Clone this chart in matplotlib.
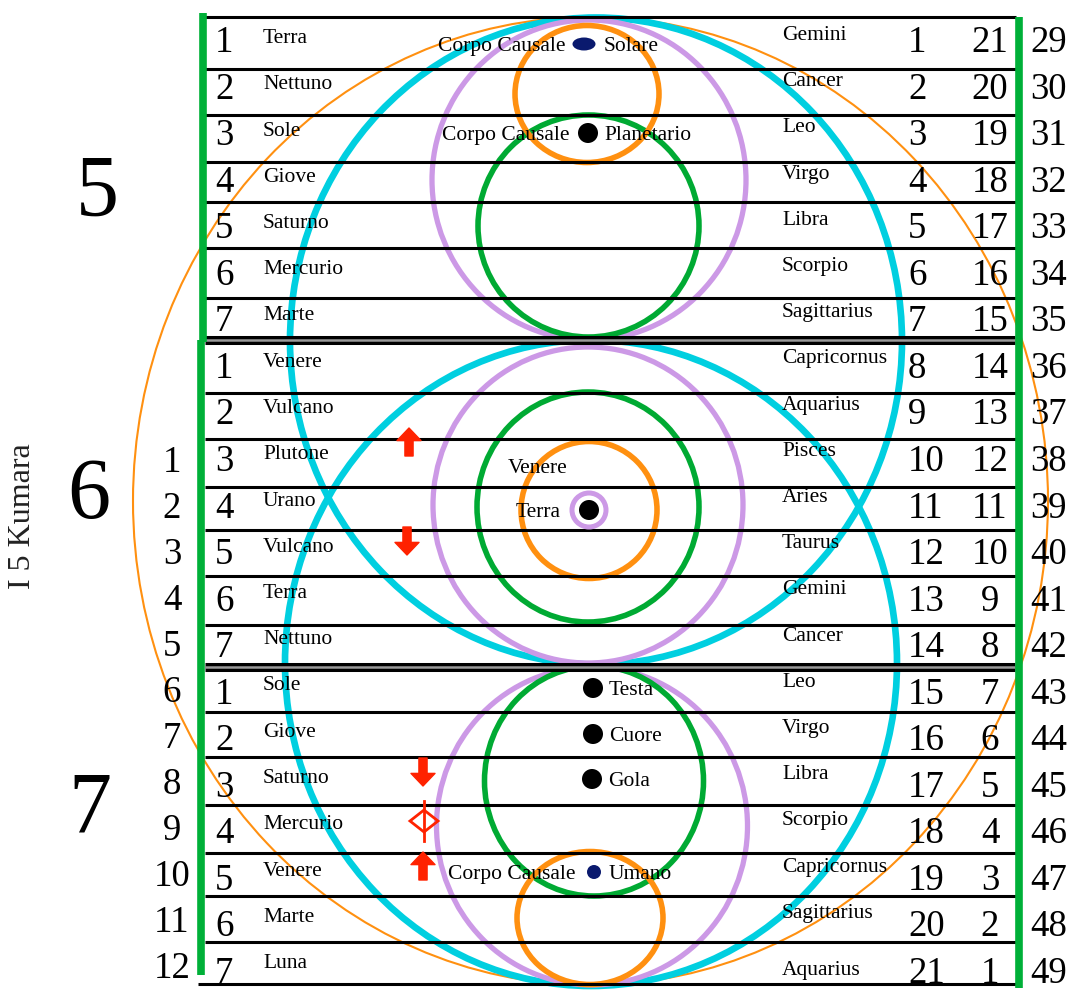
import matplotlib
matplotlib.use("Agg")
import matplotlib.pyplot as plt
from matplotlib.patches import Ellipse, Circle, Polygon

# ---------------- data ----------------
section_labels = ["5", "6", "7"]
row_numbers = [1, 2, 3, 4, 5, 6, 7] * 3
planets = ["Terra", "Nettuno", "Sole", "Giove", "Saturno", "Mercurio", "Marte",
           "Venere", "Vulcano", "Plutone", "Urano", "Vulcano", "Terra", "Nettuno",
           "Sole", "Giove", "Saturno", "Mercurio", "Venere", "Marte", "Luna"]
zodiac = ["Gemini", "Cancer", "Leo", "Virgo", "Libra", "Scorpio", "Sagittarius",
          "Capricornus", "Aquarius", "Pisces", "Aries", "Taurus", "Gemini", "Cancer",
          "Leo", "Virgo", "Libra", "Scorpio", "Capricornus", "Sagittarius", "Aquarius"]
col_a = list(range(1, 22))
col_b = list(range(21, 0, -1))
col_c = list(range(29, 50))
kumara_numbers = list(range(1, 13))      # rows 10..21
kumara_first_row = 9
side_title = "I 5 Kumara"
# red symbols: (row index, kind)
red_symbols = [(9, "up"), (11, "down"), (16, "down"), (17, "diamond"), (18, "up")]
# centre labels: (left text, dot kind, right text, row index)
centre_labels = [("Corpo Causale", "navy_ellipse", "Solare", 0),
                 ("Corpo Causale", "black", "Planetario", 2),
                 ("", "black", "Testa", 14),
                 ("", "black", "Cuore", 15),
                 ("", "black", "Gola", 16),
                 ("Corpo Causale", "navy_small", "Umano", 18)]

# ---------------- layout ----------------
W, H = 1071, 992
fig = plt.figure(figsize=(W / 100, H / 100), dpi=100)
ax = fig.add_axes([0, 0, 1, 1])
ax.set_xlim(0, W)
ax.set_ylim(H, 0)
ax.axis("off")

SERIF = "Liberation Serif"
CYAN = "#00cfe0"
PURPLE = "#cc99e6"
GREEN = "#00aa33"
ORANGE = "#ff9010"
BAR_GREEN = "#00b038"
RED = "#ff2200"
NAVY = "#0a1a6e"

row_edges = [17, 69, 115, 162, 202, 248, 298, 341, 393, 439, 487, 530, 576, 625,
             668, 712, 757, 805, 853, 896, 942, 984]

# ellipses: (cx, cy, w, h, colour, lw)
rings = [
    (590.5, 501, 915, 968, ORANGE, 1.5),
    (596, 341, 612, 647, CYAN, 4.8),
    (591, 663, 612, 646, CYAN, 4.8),
    (589, 180, 314, 320, PURPLE, 3.8),
    (588, 505, 310, 316, PURPLE, 3.8),
    (592, 826, 311, 318, PURPLE, 3.8),
    (588.5, 226, 221, 222, GREEN, 4.0),
    (588, 507, 222, 230, GREEN, 4.0),
    (594, 781, 219, 230, GREEN, 4.0),
    (587, 94, 144, 137, ORANGE, 4.0),
    (589, 510, 136, 137, ORANGE, 4.0),
    (590, 918, 146, 133, ORANGE, 4.0),
]
for cx, cy, w, h, c, lw in rings:
    ax.add_patch(Ellipse((cx, cy), w, h, fill=False, edgecolor=c, lw=lw, zorder=2))

# small ring around Terra
ax.add_patch(Circle((589, 510), 17, fill=False, edgecolor=PURPLE, lw=3.6, zorder=5))
ax.add_patch(Circle((589, 510), 10, facecolor="black", edgecolor="none", zorder=6))

# horizontal lines
for i, y in enumerate(row_edges):
    if i in (7, 14):
        ax.plot([205, 1015], [y - 1, y - 1], color="black", lw=6.5, zorder=3,
                solid_capstyle="butt")
        ax.plot([205, 1015], [y - 1, y - 1], color="#9a9a9a", lw=1.8, zorder=3.1,
                solid_capstyle="butt")
    else:
        x0 = 198 if i == len(row_edges) - 1 else 205
        ax.plot([x0, 1016], [y, y], color="black", lw=2.2, zorder=3,
                solid_capstyle="butt")

# green vertical bars
ax.plot([202.5, 202.5], [13, 342], color=BAR_GREEN, lw=5.5, zorder=4, solid_capstyle="butt")
ax.plot([200.5, 200.5], [340, 975], color=BAR_GREEN, lw=5.5, zorder=4, solid_capstyle="butt")
ax.plot([1019, 1019], [17, 988], color=BAR_GREEN, lw=5.5, zorder=4, solid_capstyle="butt")

# ---------------- texts in rows ----------------
num_fs = 26.5
name_fs = 15.5
for i in range(21):
    nb = 52 + 46.55 * i
    ax.text(215, nb, str(row_numbers[i]), fontsize=num_fs, family=SERIF,
            ha="left", va="baseline", zorder=7)
    ax.text(263, 43 + 46.25 * i, planets[i], fontsize=name_fs, family=SERIF,
            ha="left", va="baseline", zorder=7)
    zb = 40 + 46.2 * i + (11 if i == 20 else 0)
    ax.text(782, zb, zodiac[i], fontsize=name_fs, family=SERIF,
            ha="left", va="baseline", zorder=7)
    ax.text(908, nb, str(col_a[i]), fontsize=num_fs, family=SERIF,
            ha="left", va="baseline", zorder=7)
    ax.text(990, nb, str(col_b[i]), fontsize=num_fs, family=SERIF,
            ha="center", va="baseline", zorder=7)
    ax.text(1030, nb, str(col_c[i]), fontsize=num_fs, family=SERIF,
            ha="left", va="baseline", zorder=7)

# kumara numbers on the left
for k, n in enumerate(kumara_numbers):
    ax.text(172, 472 + 46 * k, str(n), fontsize=num_fs, family=SERIF,
            ha="center", va="baseline", zorder=7)

# big section numbers
for lab, (x, yb) in zip(section_labels, [(97, 215), (89, 518), (90, 832)]):
    ax.text(x, yb, lab, fontsize=62, family=SERIF, ha="center", va="baseline", zorder=7)

ax.text(23, 516, side_title, fontsize=23, family=SERIF, rotation=90,
        ha="center", va="center", color="#222222", zorder=7)

# ---------------- centre labels and dots ----------------
dot_y = {0: 44, 2: 133, 14: 688, 15: 734, 16: 779, 18: 872}
dot_x = {0: 584, 2: 588, 14: 593, 15: 593, 16: 592, 18: 594}
for left, kind, right, r in centre_labels:
    cx, cy = dot_x[r], dot_y[r]
    if kind == "navy_ellipse":
        ax.add_patch(Ellipse((cx, cy), 23, 13, facecolor=NAVY, edgecolor="none", zorder=6))
        rx = cx + 20
    elif kind == "navy_small":
        ax.add_patch(Circle((cx, cy), 7, facecolor=NAVY, edgecolor="none", zorder=6))
        rx = cx + 15
    else:
        ax.add_patch(Circle((cx, cy), 10, facecolor="black", edgecolor="none", zorder=6))
        rx = cx + 16
    if left:
        ax.text(cx - 18 if kind != "navy_ellipse" else cx - 19, cy + 7, left,
                fontsize=name_fs, family=SERIF, ha="right", va="baseline", zorder=7)
    ax.text(rx, cy + 7, right, fontsize=name_fs, family=SERIF,
            ha="left", va="baseline", zorder=7)

ax.text(508, 473, "Venere", fontsize=name_fs, family=SERIF, ha="left", va="baseline", zorder=7)
ax.text(561, 517, "Terra", fontsize=name_fs, family=SERIF, ha="right", va="baseline", zorder=7)

# ---------------- red symbols ----------------
def arrow(cx, cy, w, h, up=True):
    s = -1 if up else 1
    hh = 0.45 * h
    sw = 0.34 * w
    tip = cy + s * (h / 2)
    base = tip - s * hh
    tail = cy - s * (h / 2)
    pts = [(cx, tip), (cx + w / 2, base), (cx + sw / 2, base), (cx + sw / 2, tail),
           (cx - sw / 2, tail), (cx - sw / 2, base), (cx - w / 2, base)]
    ax.add_patch(Polygon(pts, closed=True, facecolor=RED, edgecolor=RED, lw=1.0,
                         joinstyle="round", zorder=6))

sym_x = {9: 409, 11: 407, 16: 423, 17: 424, 18: 423}
sym_off = {9: 3, 11: 11, 16: 15, 17: 16, 18: 13}
for r, kind in red_symbols:
    cx, cy = sym_x[r], row_edges[r] + sym_off[r]
    if kind == "up":
        arrow(cx, cy, 24, 28, up=True)
    elif kind == "down":
        arrow(cx, cy, 24, 28, up=False)
    else:
        d = [(cx, cy - 11), (cx + 14, cy), (cx, cy + 11), (cx - 14, cy)]
        ax.add_patch(Polygon(d, closed=True, fill=False, edgecolor=RED, lw=2.0, zorder=6))
        ax.plot([cx, cx], [cy - 20, cy + 20], color=RED, lw=2.0, zorder=6)

fig.savefig("out.png", dpi=100, facecolor="white")
